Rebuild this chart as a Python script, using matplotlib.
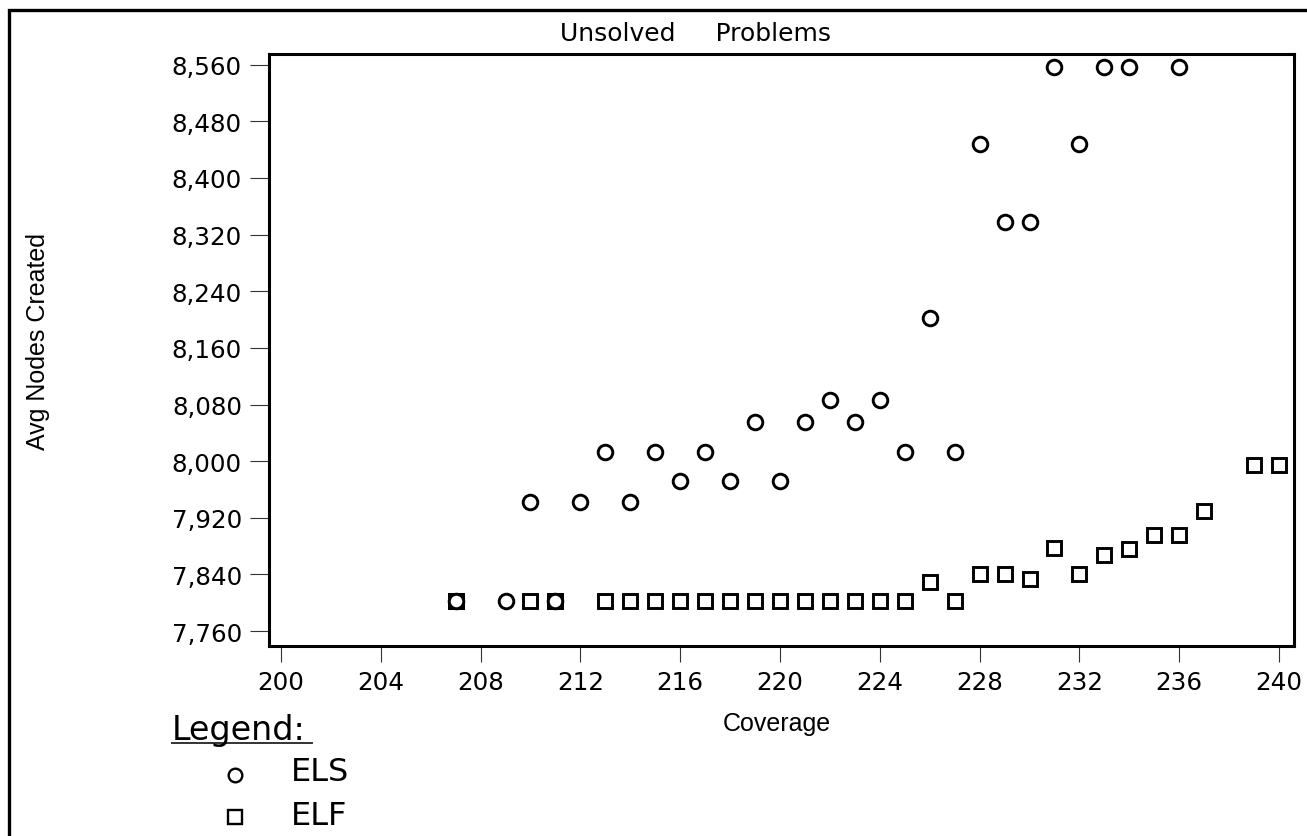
import matplotlib
matplotlib.use("Agg")
import matplotlib.pyplot as plt
from matplotlib.patches import Rectangle
from matplotlib.ticker import FuncFormatter, FixedLocator

# ---- data ----
els_x = [207, 209, 210, 211, 212, 213, 214, 215, 216, 217, 218, 219, 220, 221,
         222, 223, 224, 225, 226, 227, 228, 229, 230, 231, 232, 233, 234, 236]
els_y = [7803, 7803, 7942, 7803, 7942, 8013, 7942, 8013, 7972, 8013, 7972, 8055, 7972, 8055,
         8086, 8055, 8086, 8013, 8202, 8013, 8448, 8338, 8338, 8557, 8448, 8557, 8557, 8557]

elf_x = [207, 210, 211, 213, 214, 215, 216, 217, 218, 219, 220, 221, 222, 223,
         224, 225, 226, 227, 228, 229, 230, 231, 232, 233, 234, 235, 236, 237, 239, 240]
elf_y = [7803, 7803, 7803, 7803, 7803, 7803, 7803, 7803, 7803, 7803, 7803, 7803, 7803, 7803,
         7803, 7803, 7830, 7803, 7840, 7840, 7833, 7878, 7840, 7867, 7876, 7896, 7896, 7930, 7994, 7994]

x_ticks = [200, 204, 208, 212, 216, 220, 224, 228, 232, 236, 240]
y_ticks = [7760, 7840, 7920, 8000, 8080, 8160, 8240, 8320, 8400, 8480, 8560]

title = "Unsolved     Problems"
x_label = "Coverage"
y_label = "Avg Nodes Created"
series_names = ["ELS", "ELF"]

W, H = 1307, 837
fig = plt.figure(figsize=(W / 100, H / 100), dpi=100)
fig.patch.set_facecolor("white")

def fx(px):
    return px / W

def fy(py):
    return 1 - py / H

ax = fig.add_axes([fx(269), fy(647), fx(1294) - fx(269), fy(55) - fy(647)])

MS = 10.5
MEW = 2.1
ax.plot(elf_x, elf_y, linestyle="none", marker="s", markersize=MS,
        markerfacecolor="none", markeredgecolor="black", markeredgewidth=MEW)
ax.plot(els_x, els_y, linestyle="none", marker="o", markersize=MS,
        markerfacecolor="none", markeredgecolor="black", markeredgewidth=MEW)

# where both series coincide, the original renders a dark square with a light circle
elf_pts = set(zip(elf_x, elf_y))
both = [(x, y) for x, y in zip(els_x, els_y) if (x, y) in elf_pts]
if both:
    bx, by = zip(*both)
    ax.plot(bx, by, linestyle="none", marker="s", markersize=MS,
            markerfacecolor="black", markeredgecolor="black", markeredgewidth=MEW)
    ax.plot(bx, by, linestyle="none", marker="o", markersize=MS - 2.2,
            markerfacecolor="white", markeredgecolor="white", markeredgewidth=0)

ax.set_xlim(199.52, 240.6)
ax.set_ylim(7739, 8575)
ax.xaxis.set_major_locator(FixedLocator(x_ticks))
ax.yaxis.set_major_locator(FixedLocator(y_ticks))
ax.yaxis.set_major_formatter(FuncFormatter(lambda v, p: f"{int(v):,}"))
ax.xaxis.set_major_formatter(FuncFormatter(lambda v, p: f"{int(v)}"))

for s in ax.spines.values():
    s.set_linewidth(2.2)
    s.set_color("black")

ax.tick_params(axis="both", direction="out", width=0.8, color="#333333",
               labelsize=17.7, labelcolor="black")
ax.tick_params(axis="y", length=14, pad=5.5)
ax.tick_params(axis="x", length=11.5, pad=6)

# title and axis labels
fig.text(fx(696), fy(34), title, ha="center", va="center", fontsize=18,
         family="DejaVu Sans")
fig.text(fx(777), fy(724), x_label, ha="center", va="center", fontsize=18,
         family="Liberation Sans")
fig.text(fx(38), fy(341), y_label, ha="center", va="center", rotation=90,
         fontsize=18, family="Liberation Sans")

# legend block
fig.text(fx(172), fy(740), "Legend:", ha="left", va="baseline", fontsize=24,
         family="DejaVu Sans")
fig.add_artist(plt.Line2D([fx(172), fx(312)], [fy(744), fy(744)], color="#333333",
                          linewidth=1.4, transform=fig.transFigure))
fig.add_artist(plt.Line2D([fx(235)], [fy(776)], marker="o", markersize=9.8,
                          markerfacecolor="none", markeredgecolor="black",
                          markeredgewidth=1.7, linestyle="none", transform=fig.transFigure))
fig.add_artist(plt.Line2D([fx(235)], [fy(818)], marker="s", markersize=9.8,
                          markerfacecolor="none", markeredgecolor="black",
                          markeredgewidth=1.7, linestyle="none", transform=fig.transFigure))
fig.text(fx(291), fy(772.5), series_names[0], ha="left", va="center", fontsize=23,
         family="DejaVu Sans")
fig.text(fx(291), fy(817), series_names[1], ha="left", va="center", fontsize=23,
         family="DejaVu Sans")

# outer border (extends beyond right/bottom edges)
fig.add_artist(Rectangle((fx(9), -0.1), 1.2, fy(10.5) + 0.1, transform=fig.transFigure,
                         fill=False, edgecolor="black", linewidth=2.4))

fig.savefig("out.png", dpi=100)
